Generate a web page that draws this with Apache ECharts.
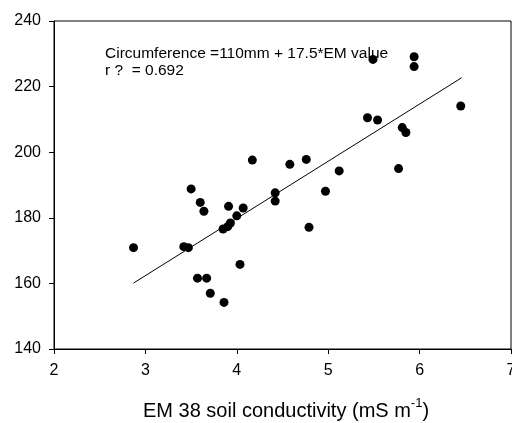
<!DOCTYPE html>
<html>
<head>
<meta charset="utf-8">
<script src="https://cdn.jsdelivr.net/npm/echarts@6/dist/echarts.min.js"></script>
<style>html,body{margin:0;padding:0;background:#fff}#c{width:512px;height:423px}</style>
</head>
<body>
<div id="c"></div>
<script>
var emValues = [2.87, 3.42, 3.47, 3.50, 3.57, 3.60, 3.64, 3.67, 3.71, 3.86, 3.85, 3.90, 3.93, 3.91, 4.00, 4.035, 4.07, 4.17, 4.42, 4.42, 4.58, 4.76, 4.79, 4.97, 5.12, 5.43, 5.49, 5.54, 5.77, 5.81, 5.85, 5.94, 5.94, 6.45];
var circumference = [170.9, 171.2, 170.9, 188.8, 161.6, 184.7, 182.0, 161.6, 157.0, 154.2, 176.6, 177.3, 178.4, 183.5, 180.6, 165.8, 183.0, 197.6, 187.6, 185.1, 196.3, 197.8, 177.1, 188.1, 194.3, 210.5, 228.3, 209.8, 195.0, 207.5, 206.0, 229.1, 226.1, 214.1];
var fitX = [2.87, 6.46];
var fitY = [160.1, 222.7];
var xTicks = [2, 3, 4, 5, 6, 7];
var yTicks = [140, 160, 180, 200, 220, 240];
var annotation1 = 'Circumference =110mm + 17.5*EM value';
var annotation2 = 'r ?  = 0.692';

var chart = echarts.init(document.getElementById('c'));
var font = 'Liberation Sans, Arial, sans-serif';
chart.setOption({
  animation: false,
  grid: {left: 54, right: 1, top: 21, bottom: 74, show: true, borderColor: '#000', borderWidth: 1,
         backgroundColor: 'transparent', containLabel: false, outerBoundsMode: 'none'},
  xAxis: {
    type: 'value', min: xTicks[0], max: xTicks[xTicks.length-1], interval: 1,
    axisLine: {show: true, lineStyle: {color: '#000', width: 1}},
    axisTick: {show: true, inside: false, length: 5, lineStyle: {color: '#000'}},
    axisLabel: {color: '#000', fontSize: 16, fontFamily: font, margin: 14},
    splitLine: {show: false}
  },
  yAxis: {
    type: 'value', min: yTicks[0], max: yTicks[yTicks.length-1], interval: 20,
    axisLine: {show: true, lineStyle: {color: '#000', width: 1}},
    axisTick: {show: true, inside: false, length: 5, lineStyle: {color: '#000'}},
    axisLabel: {color: '#000', fontSize: 16, fontFamily: font, margin: 13},
    splitLine: {show: false}
  },
  series: [
    {
      type: 'line', data: fitX.map(function(x, i){return [x, fitY[i]];}),
      showSymbol: false, symbol: 'none', lineStyle: {color: '#000', width: 1}, z: 1
    },
    {
      type: 'scatter', data: emValues.map(function(x, i){return [x, circumference[i]];}),
      symbol: 'circle', symbolSize: 9, itemStyle: {color: '#000', opacity: 1}, z: 2
    }
  ],
  graphic: [
    {type: 'text', left: 105, top: 46, style: {text: annotation1, fontSize: 15.5, fontFamily: font, fill: '#000'}},
    {type: 'text', left: 105, top: 63, style: {text: annotation2, fontSize: 15.5, fontFamily: font, fill: '#000'}},
    {type: 'text', left: 143, top: 397, style: {
      text: '{a|EM 38 soil conductivity (mS m}{s|-1}{a|)}',
      rich: {
        a: {fontSize: 20, fontFamily: font, fill: '#000', verticalAlign: 'bottom', lineHeight: 24},
        s: {fontSize: 13, fontFamily: font, fill: '#000', verticalAlign: 'top', lineHeight: 24, padding: [0,0,12,0]}
      }
    }}
  ]
});
</script>
</body>
</html>
